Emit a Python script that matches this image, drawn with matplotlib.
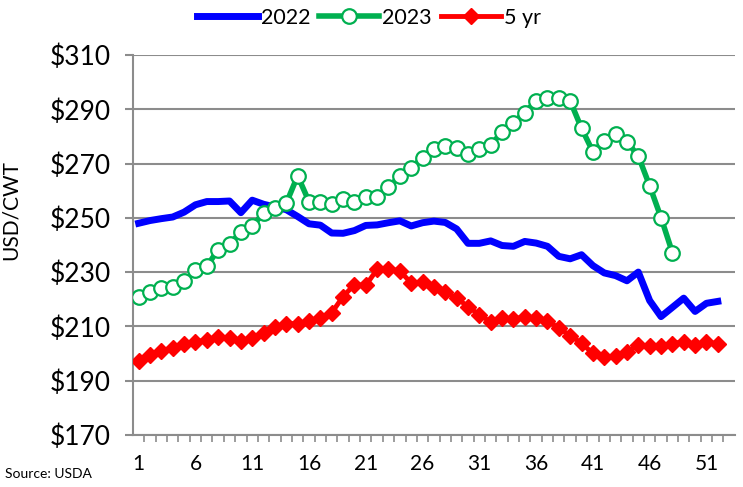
import matplotlib.pyplot as plt

weeks_2022 = list(range(1, 53))
price_2022 = [248.0, 249.0, 249.7, 250.3, 252.1, 254.8, 256.0, 256.0, 256.2, 251.9,
              256.5, 255.0, 254.0, 253.0, 250.5, 247.8, 247.3, 244.4, 244.3, 245.3,
              247.2, 247.4, 248.2, 248.9, 247.0, 248.2, 248.8, 248.3, 245.9, 240.6,
              240.6, 241.5, 239.8, 239.5, 241.3, 240.7, 239.5, 235.8, 234.9, 236.4,
              232.4, 229.7, 228.7, 226.8, 230.0, 219.5, 213.6, 217.0, 220.4, 215.5,
              218.5, 219.2]

weeks_2023 = list(range(1, 49))
price_2023 = [221.0, 222.6, 224.2, 224.4, 226.6, 230.6, 232.2, 238.2, 240.4, 244.7,
              247.0, 251.7, 253.8, 255.4, 265.5, 256.0, 256.0, 255.0, 257.1, 256.0,
              257.5, 257.7, 261.2, 265.5, 268.3, 272.2, 275.3, 276.5, 275.9, 273.4,
              275.3, 276.7, 281.7, 285.1, 288.8, 293.1, 294.0, 294.0, 293.1, 283.0,
              274.4, 278.3, 281.0, 278.0, 272.8, 261.8, 250.1, 237.2]

weeks_5yr = list(range(1, 53))
price_5yr = [197.4, 199.3, 201.0, 202.1, 203.6, 204.2, 205.1, 206.0, 205.8, 204.6,
             205.8, 207.5, 209.8, 211.0, 211.0, 211.8, 213.0, 215.0, 221.0, 225.4,
             225.1, 231.0, 231.2, 230.4, 226.0, 226.3, 224.6, 222.6, 220.4, 217.3,
             214.3, 211.6, 213.0, 212.7, 213.5, 213.0, 212.0, 209.4, 206.6, 203.8,
             200.0, 198.8, 199.0, 200.4, 203.2, 202.7, 202.7, 203.6, 204.4, 203.3,
             204.1, 203.6]

xtick_labels = [1, 6, 11, 16, 21, 26, 31, 36, 41, 46, 51]
ytick_values = [170, 190, 210, 230, 250, 270, 290, 310]

plt.rcParams['font.family'] = ['Lato', 'DejaVu Sans']

fig = plt.figure(figsize=(7.43, 4.87), dpi=100)
ax = fig.add_axes([0.179, 0.107, 0.81, 0.780])

ax.plot(weeks_2022, price_2022, color='#0000FF', lw=5, label='2022', zorder=3)
ax.plot(weeks_2023, price_2023, color='#00B050', lw=4, marker='o', ms=10.5,
        mfc='white', mec='#00B050', mew=1.6, label='2023', zorder=4)
ax.plot(weeks_5yr, price_5yr, color='#FF0000', lw=3.5, marker='D', ms=8.5,
        mec='#FF0000', label='5 yr', zorder=5)

ax.set_xlim(0.5, 53.5)
ax.set_ylim(170, 310)
ax.set_yticks(ytick_values)
ax.set_yticklabels(['$%d' % v for v in ytick_values], fontsize=19)
ax.set_xticks(xtick_labels)
ax.set_xticklabels([str(v) for v in xtick_labels], fontsize=15)
ax.set_xticks([w + 0.5 for w in range(1, 53)], minor=True)

ax.grid(axis='y', color='#8c8c8c', lw=1.5)
ax.set_axisbelow(True)
for s in ['top', 'right']:
    ax.spines[s].set_visible(False)
for s in ['left', 'bottom']:
    ax.spines[s].set_color('#8c8c8c')
    ax.spines[s].set_linewidth(1.5)

ax.tick_params(axis='y', length=6, width=1.5, color='#8c8c8c', pad=10)
ax.tick_params(axis='x', which='major', length=0, pad=14)
ax.tick_params(axis='x', which='minor', length=5, width=1.2, color='#8c8c8c')

fig.legend(loc='center', bbox_to_anchor=(0.497, 0.963), ncol=3, frameon=False,
           fontsize=15.5, handlelength=2.8, handletextpad=0.15, columnspacing=0.4)

fig.text(0.028, 0.569, 'USD/CWT', rotation=90, ha='right', va='center', fontsize=15)
fig.text(0.007, 0.018, 'Source: USDA', fontsize=10)

fig.savefig('out.png', dpi=100)
